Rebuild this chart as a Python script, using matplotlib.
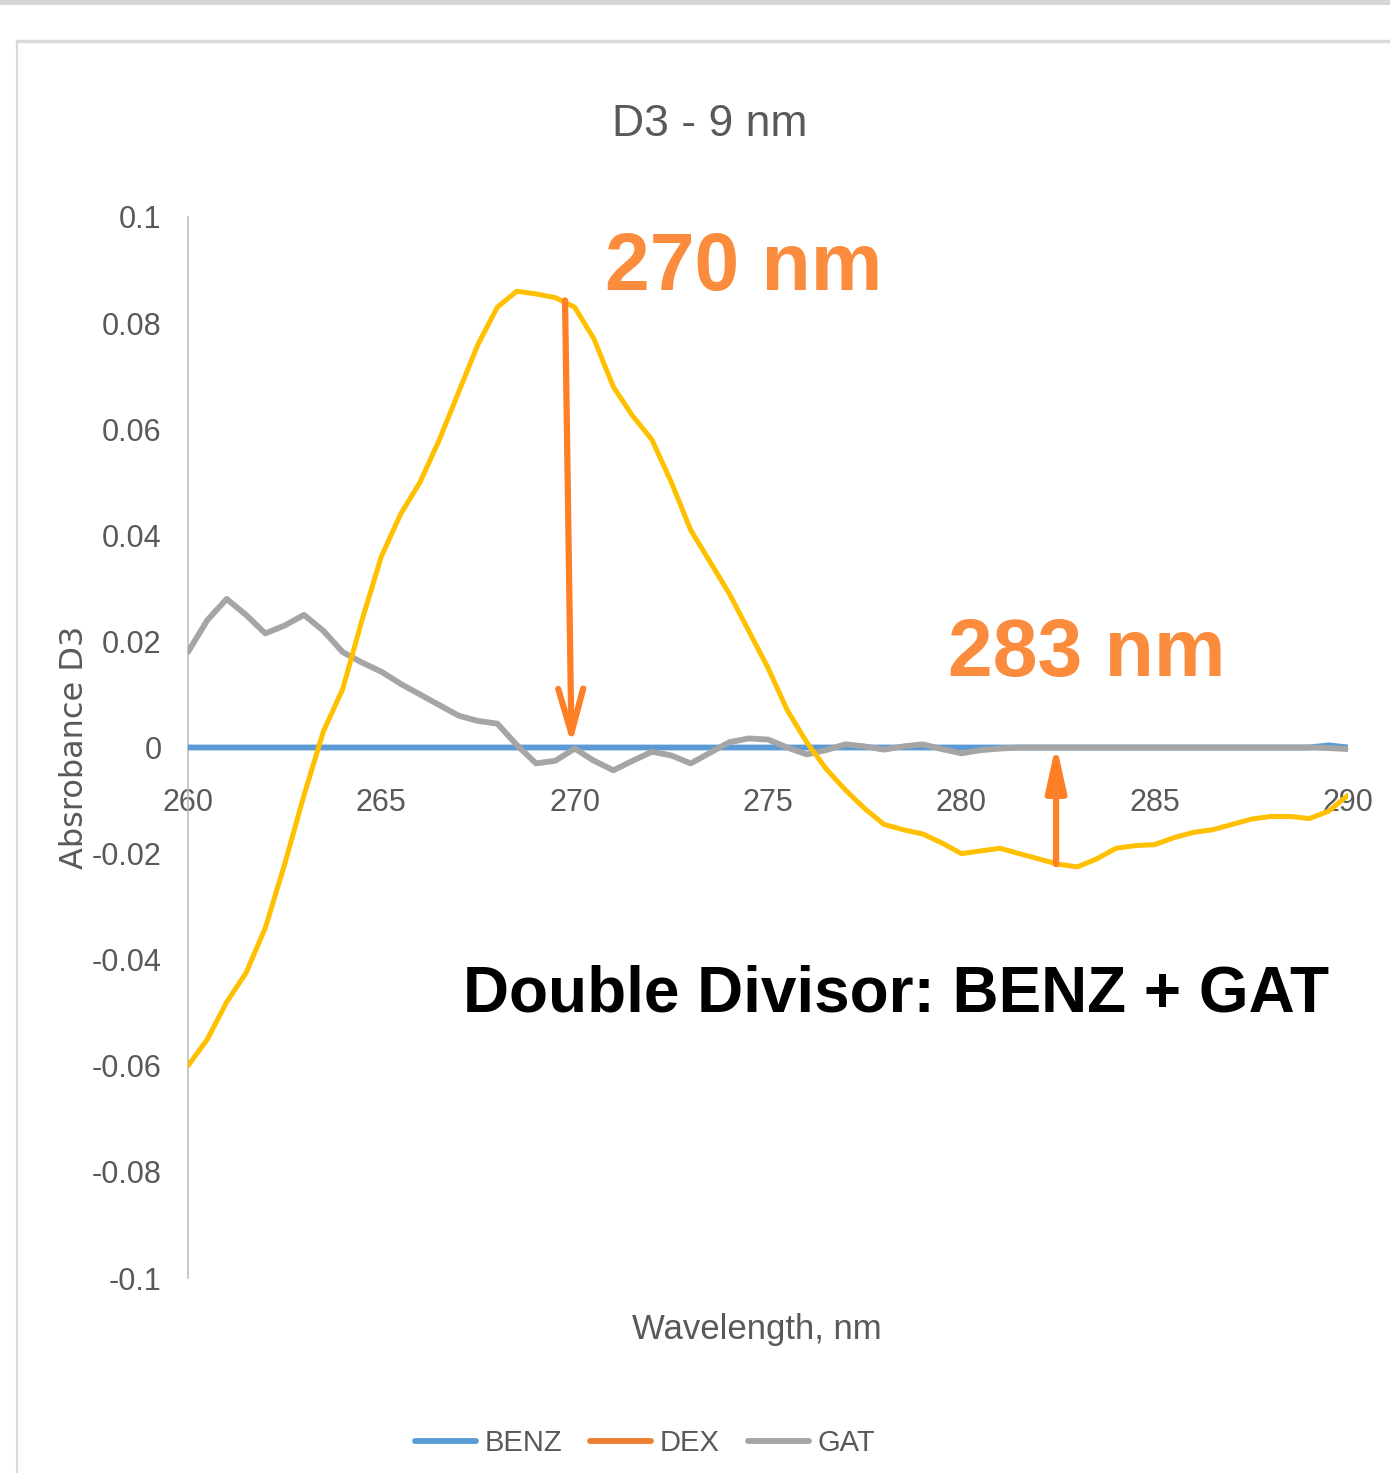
import matplotlib
matplotlib.use("Agg")
import matplotlib.pyplot as plt
from matplotlib.lines import Line2D
from matplotlib.patches import Rectangle
import numpy as np

# wavelength grid, 0.5 nm steps
wavelength = np.arange(260, 290.5, 0.5)

dex = [-0.060, -0.055, -0.048, -0.0425, -0.034, -0.022, -0.009, 0.003, 0.011, 0.024,
       0.036, 0.044, 0.050, 0.058, 0.067, 0.076, 0.083, 0.086, 0.0855, 0.0848,
       0.083, 0.077, 0.068, 0.0625, 0.058, 0.050, 0.041, 0.035, 0.029, 0.022,
       0.015, 0.007, 0.001, -0.004, -0.008, -0.0115, -0.0145, -0.0155, -0.0163, -0.018,
       -0.020, -0.0195, -0.019, -0.020, -0.021, -0.022, -0.0225, -0.021, -0.019, -0.0185,
       -0.0183, -0.017, -0.016, -0.0155, -0.0145, -0.0135, -0.013, -0.013, -0.0134, -0.012,
       -0.009]

gat = [0.018, 0.024, 0.028, 0.025, 0.0215, 0.023, 0.025, 0.022, 0.018, 0.016,
       0.0143, 0.012, 0.010, 0.008, 0.006, 0.005, 0.0045, 0.0005, -0.003, -0.0025,
       -0.0002, -0.0025, -0.0043, -0.0025, -0.0008, -0.0015, -0.003, -0.001, 0.001, 0.0017,
       0.0015, 0.0, -0.0013, -0.0005, 0.0006, 0.0002, -0.0004, 0.0002, 0.0006, -0.0003,
       -0.0011, -0.0005, -0.0002, 0.0, 0.0, 0.0, 0.0, 0.0, 0.0, 0.0,
       0.0, 0.0, 0.0, 0.0, 0.0, 0.0, 0.0, 0.0, 0.0, -0.0001,
       -0.0003]

benz = [0.0] * 59 + [0.0004, 0.0]

xticks = [260, 265, 270, 275, 280, 285, 290]
yticks = [-0.1, -0.08, -0.06, -0.04, -0.02, 0, 0.02, 0.04, 0.06, 0.08, 0.1]
ytick_labels = ["-0.1", "-0.08", "-0.06", "-0.04", "-0.02", "0",
                "0.02", "0.04", "0.06", "0.08", "0.1"]

blue = "#5B9BD5"
orange = "#ED7D31"
gold = "#FFC000"
grey = "#A5A5A5"
arrow_col = "#FF7F27"
label_col = "#FB8B3D"
text_col = "#595959"

plt.rcParams["font.family"] = ["Liberation Sans", "DejaVu Sans"]

fig = plt.figure(figsize=(13.9, 14.73), dpi=100)

# chart frame like the Excel screenshot
fig.patches.append(Rectangle((0, 0.9965), 1, 0.0035, transform=fig.transFigure,
                             color="#D6D6D6", lw=0))
fig.add_artist(Line2D([17/1390, 1], [1-41/1473, 1-41/1473], transform=fig.transFigure,
                      color="#D9D9D9", lw=2.5))
fig.add_artist(Line2D([17/1390, 17/1390], [0, 1-41/1473], transform=fig.transFigure,
                      color="#D9D9D9", lw=1.5))

ax = fig.add_axes([188/1390, 1-1278/1473, 1160/1390, 1061/1473])

ax.plot(wavelength, benz, color=blue, lw=4.2, solid_capstyle="round", zorder=3)
ax.plot(wavelength, gat, color=grey, lw=4.2, solid_capstyle="round",
        solid_joinstyle="round", zorder=4)
ax.plot(wavelength, dex, color=gold, lw=3.6, solid_capstyle="round",
        solid_joinstyle="round", zorder=5)

ax.set_xlim(260, 290)
ax.set_ylim(-0.1, 0.1)
ax.set_xticks(xticks)
ax.set_yticks(yticks)
ax.set_yticklabels(ytick_labels)

for s in ["top", "right"]:
    ax.spines[s].set_visible(False)
ax.spines["left"].set_color("#BFBFBF")
ax.spines["left"].set_linewidth(1.2)
ax.spines["bottom"].set_position(("data", 0))
ax.spines["bottom"].set_color("#BFBFBF")
ax.tick_params(axis="x", length=0, pad=29, labelsize=22, labelcolor=text_col)
ax.tick_params(axis="y", length=0, pad=19, labelsize=22, labelcolor=text_col)

ax.set_ylabel("Absrobance D3", family="DejaVu Sans", fontsize=23, color=text_col,
              va="center")
ax.yaxis.set_label_coords(-0.0975, 0.5)

# annotation arrows
ax.annotate("", xy=(269.92, 0.0), xytext=(269.75, 0.0848),
            arrowprops=dict(arrowstyle="->,head_length=3.2,head_width=0.9",
                            color=arrow_col, lw=4.5), zorder=6)
ax.annotate("", xy=(282.45, 0.0012), xytext=(282.45, -0.0225),
            arrowprops=dict(arrowstyle="-|>,head_length=2.7,head_width=0.6",
                            color=arrow_col, lw=4.5), zorder=6)

ax.text(270.78, 0.0902, "270 nm", fontweight="bold", fontsize=58,
        color=label_col, va="center", ha="left")
ax.text(279.65, 0.0175, "283 nm", fontweight="bold", fontsize=58,
        color=label_col, va="center", ha="left")

fig.text(463/1390, 1-995/1473, "Double Divisor: BENZ + GAT", fontweight="bold",
         fontsize=46, color="black", ha="left", va="center")

fig.text(710/1390, 1-124/1473, "D3 - 9 nm", fontsize=32, color=text_col,
         ha="center", va="center")
fig.text(757/1390, 1-1330/1473, "Wavelength, nm", fontsize=25, color=text_col,
         ha="center", va="center")

handles = [Line2D([], [], color=blue, lw=4.2, solid_capstyle="round"),
           Line2D([], [], color=orange, lw=4.2, solid_capstyle="round"),
           Line2D([], [], color=grey, lw=4.2, solid_capstyle="round")]
fig.legend(handles, ["BENZ", "DEX", "GAT"], loc="center",
           bbox_to_anchor=(645/1390, 1-1443/1473), ncol=3, frameon=False,
           fontsize=21, labelcolor=text_col, handlelength=2.1,
           handletextpad=0.3, columnspacing=0.95)

fig.savefig("out.png", dpi=100)
